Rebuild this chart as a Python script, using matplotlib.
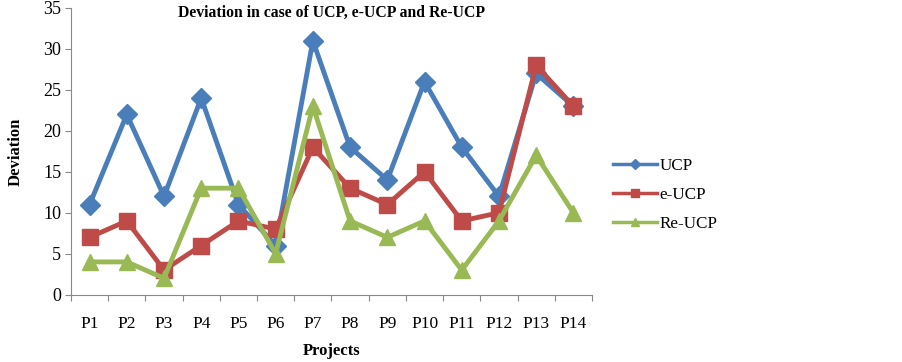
import matplotlib.pyplot as plt
import numpy as np

plt.rcParams['font.family'] = 'Liberation Serif'

projects = ['P1', 'P2', 'P3', 'P4', 'P5', 'P6', 'P7', 'P8', 'P9', 'P10', 'P11', 'P12', 'P13', 'P14']
ucp = [11, 22, 12, 24, 11, 6, 31, 18, 14, 26, 18, 12, 27, 23]
e_ucp = [7, 9, 3, 6, 9, 8, 18, 13, 11, 15, 9, 10, 28, 23]
re_ucp = [4, 4, 2, 13, 13, 5, 23, 9, 7, 9, 3, 9, 17, 10]

fig = plt.figure(figsize=(9.02, 3.62), dpi=100)
ax = fig.add_axes([0.0787, 0.186, 0.5776, 0.792])

# later series drawn on top, like the original spreadsheet chart
x = np.arange(len(projects))
ax.plot(x, ucp, color='#4A7EBB', lw=3.5, marker='D', ms=10, label='UCP', zorder=1)
ax.plot(x, e_ucp, color='#BE4B48', lw=3.5, marker='s', ms=11, label='e-UCP', zorder=2)
ax.plot(x, re_ucp, color='#98B954', lw=3.5, marker='^', ms=12, label='Re-UCP', zorder=3)

ax.set_xlim(-0.5, len(projects) - 0.5)
ax.set_ylim(0, 35)
ax.set_yticks(range(0, 36, 5))
ax.set_xticks(np.arange(-0.5, len(projects), 1))
ax.set_xticklabels([])
ax.set_xticks(x, minor=True)
ax.set_xticklabels(projects, minor=True)
ax.tick_params(axis='x', which='minor', length=0, pad=15, labelsize=12.5)
ax.tick_params(axis='x', which='major', length=4, color='#888888')
ax.tick_params(axis='y', length=4, color='#888888', labelsize=13, pad=3)

for s in ['top', 'right']:
    ax.spines[s].set_visible(False)
for s in ['left', 'bottom']:
    ax.spines[s].set_color('#888888')

ax.set_title('Deviation in case of UCP, e-UCP and Re-UCP', fontsize=11.3, fontweight='bold', y=0.94)
ax.set_xlabel('Projects', fontsize=12, fontweight='bold', labelpad=8)
ax.set_ylabel('Deviation', fontsize=12, fontweight='bold', labelpad=14)

leg = ax.legend(loc='center left', bbox_to_anchor=(1.01, 0.348), frameon=False, fontsize=12.3,
                handlelength=2.6, markerscale=0.5, labelspacing=0.75, handletextpad=0.15)
for line in leg.get_lines():
    line.set_linewidth(2.5)

plt.savefig('out.png', dpi=100)
